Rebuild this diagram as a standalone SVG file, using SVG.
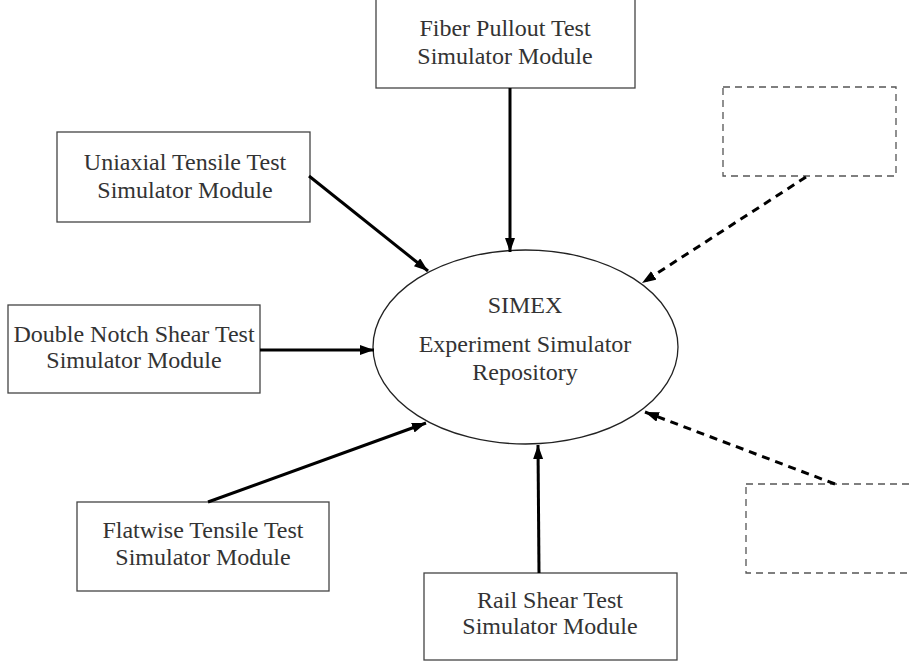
<svg xmlns="http://www.w3.org/2000/svg" width="912" height="664" viewBox="0 0 912 664">
<style>
.box{fill:#fff;stroke:#444;stroke-width:1.3}
.dbox{fill:#fff;stroke:#555;stroke-width:1.3;stroke-dasharray:7,5}
.t{font-family:"Liberation Serif","Times New Roman",serif;font-size:24px;fill:#333;text-anchor:middle}
.c{stroke:#000;stroke-width:3;fill:none}
.cd{stroke:#000;stroke-width:3;fill:none;stroke-dasharray:8,6}
</style>
<defs>
<marker id="ah" markerUnits="userSpaceOnUse" markerWidth="16" markerHeight="12" refX="14" refY="5" orient="auto">
<path d="M0,0 L14,5 L0,10 Z" fill="#000"/>
</marker>
</defs>
<rect width="912" height="664" fill="#fff"/>
<g id="fiber"><rect class="box" x="376" y="-1" width="259" height="89"/>
<text class="t" x="505" y="36">Fiber Pullout Test</text><text class="t" x="505" y="64">Simulator Module</text></g>
<g id="uniaxial"><rect class="box" x="57" y="132" width="253" height="90"/>
<text class="t" x="185" y="170">Uniaxial Tensile Test</text><text class="t" x="185" y="198">Simulator Module</text></g>
<g id="doublenotch"><rect class="box" x="8" y="305" width="252" height="88"/>
<text class="t" x="134" y="342">Double Notch Shear Test</text><text class="t" x="134" y="368">Simulator Module</text></g>
<g id="flatwise"><rect class="box" x="77" y="502" width="252" height="89"/>
<text class="t" x="203" y="538">Flatwise Tensile Test</text><text class="t" x="203" y="565">Simulator Module</text></g>
<g id="rail"><rect class="box" x="424" y="573" width="253" height="87"/>
<text class="t" x="550" y="608">Rail Shear Test</text><text class="t" x="550" y="634">Simulator Module</text></g>
<g id="unknown1"><rect class="dbox" x="723" y="87" width="173" height="89"/></g>
<g id="unknown2"><rect class="dbox" x="746" y="484" width="180" height="89"/></g>
<g id="simex"><ellipse cx="525.5" cy="347" rx="152.5" ry="97" fill="#fff" stroke="#222" stroke-width="1.3"/>
<text class="t" x="525" y="313">SIMEX</text>
<text class="t" x="525" y="352">Experiment Simulator</text>
<text class="t" x="525" y="380">Repository</text></g>
<g id="connectors">
<line class="c" x1="510" y1="88" x2="510" y2="252" marker-end="url(#ah)"/>
<line class="c" x1="309" y1="176" x2="428" y2="271" marker-end="url(#ah)"/>
<line class="c" x1="260" y1="350" x2="374" y2="350" marker-end="url(#ah)"/>
<line class="c" x1="208" y1="502" x2="426" y2="423" marker-end="url(#ah)"/>
<line class="c" x1="539" y1="573" x2="538" y2="445" marker-end="url(#ah)"/>
<line class="cd" x1="806" y1="177" x2="642" y2="283" marker-end="url(#ah)"/>
<line class="cd" x1="835" y1="484" x2="645" y2="412" marker-end="url(#ah)"/>
</g>
</svg>
